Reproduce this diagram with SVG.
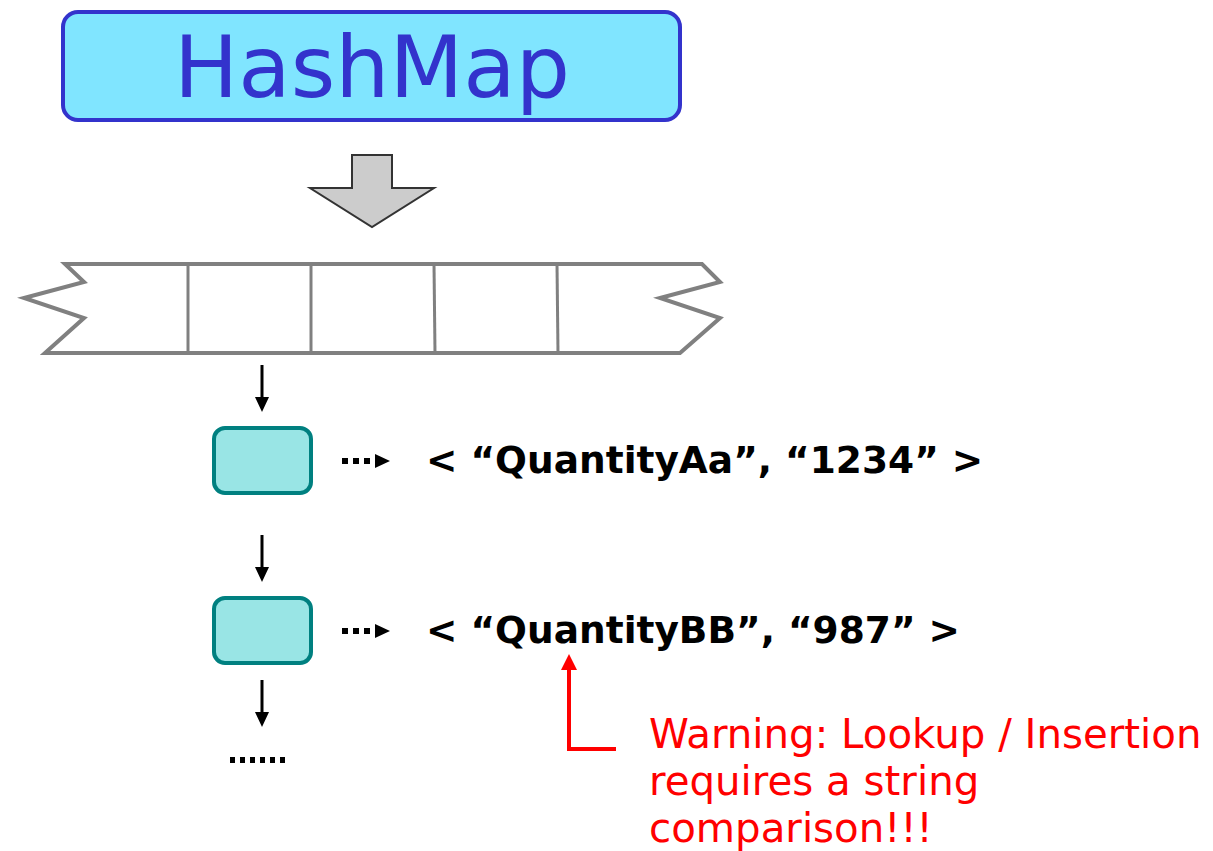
<svg xmlns="http://www.w3.org/2000/svg" width="1213" height="851" viewBox="0 0 1213 851">
<style>
.strip{fill:none;stroke:#808080;stroke-width:4;stroke-linejoin:miter}
.div{stroke:#808080;stroke-width:3}
.node{fill:#99e5e5;stroke:#008080;stroke-width:4}
.kv{font-family:"DejaVu Sans",sans-serif;font-weight:bold;font-size:37.5px;fill:#000}
.warn{font-family:"DejaVu Sans",sans-serif;font-size:40.3px;fill:#ff0000}
.link{stroke:#000;stroke-width:3}
.dots{stroke:#000;stroke-width:6;stroke-dasharray:6 5}
</style>
<g id="hashmap">
<rect x="63" y="12" width="617" height="108" rx="15" fill="#80e5ff" stroke="#3333cc" stroke-width="4"/>
<text x="372" y="97" text-anchor="middle" font-family="DejaVu Sans,sans-serif" font-size="85.5" fill="#3333cc">HashMap</text>
</g>
<g id="big-arrow">
<polygon points="352,155 392,155 392,188 434,188 372,227 310,188 352,188" fill="#cccccc" stroke="#333333" stroke-width="2"/>
</g>
<g id="array">
<path class="strip" d="M65,264 L702,264 L720,282 L660,298 L720,318 L680,353 L45,353 L84,318 L24,298 L84,282 Z"/>
<line class="div" x1="188" y1="264" x2="188" y2="353"/>
<line class="div" x1="311" y1="264" x2="311" y2="353"/>
<line class="div" x1="434" y1="264" x2="435" y2="353"/>
<line class="div" x1="557" y1="264" x2="558" y2="353"/>
</g>
<g id="node1">
<rect class="node" x="214" y="428" width="97" height="65" rx="11"/>
</g>
<g id="node2">
<rect class="node" x="214" y="598" width="97" height="65" rx="11"/>
</g>
<g id="connectors">
<line class="link" x1="262" y1="365" x2="262" y2="398"/>
<polygon points="255,397 269,397 262,412"/>
<line class="link" x1="262" y1="535" x2="262" y2="568"/>
<polygon points="255,567 269,567 262,582"/>
<line class="link" x1="262" y1="680" x2="262" y2="713"/>
<polygon points="255,712 269,712 262,727"/>
<line class="dots" x1="342" y1="461" x2="372" y2="461"/>
<polygon points="375,454 390,461 375,468"/>
<line class="dots" x1="342" y1="631" x2="372" y2="631"/>
<polygon points="375,624 390,631 375,638"/>
<polyline points="616,749 569,749 569,668" fill="none" stroke="#ff0000" stroke-width="4"/>
<polygon points="561,670 577,670 569,654" fill="#ff0000"/>
</g>
<g id="labels">
<text class="kv" x="426" y="473">&lt; “QuantityAa”, “1234” &gt;</text>
<text class="kv" x="426" y="643">&lt; “QuantityBB”, “987” &gt;</text>
<line x1="230" y1="760" x2="290" y2="760" stroke="#000" stroke-width="6" stroke-dasharray="5 5"/>
<text class="warn" x="649" y="748">Warning: Lookup / Insertion</text>
<text class="warn" x="649" y="795">requires a string</text>
<text class="warn" x="649" y="842">comparison!!!</text>
</g>
</svg>
